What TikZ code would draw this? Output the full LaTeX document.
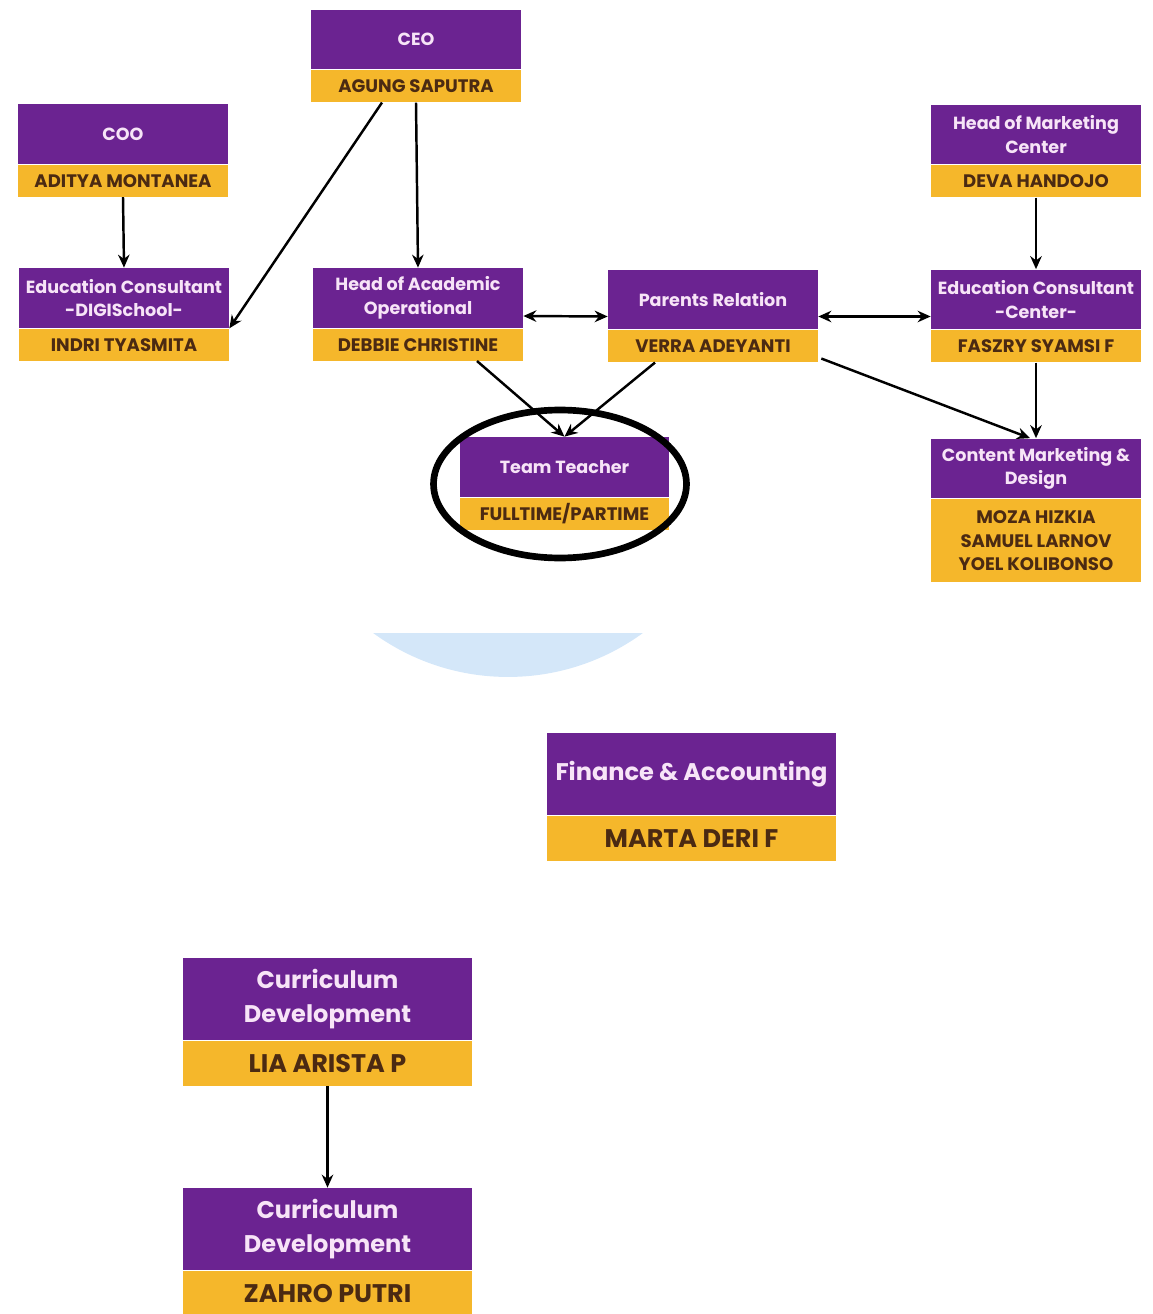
\documentclass[tikz,border=0pt]{standalone}
\usepackage{fontspec}
\setmainfont{Poppins}
\usetikzlibrary{arrows.meta, positioning, calc}
\definecolor{rolepurple}{HTML}{6B2391}
\definecolor{nameyellow}{HTML}{F5B72B}
\definecolor{roletext}{HTML}{F7E4F7}
\definecolor{nametext}{HTML}{4B2A12}
\definecolor{markblue}{HTML}{D4E7F9}

\begin{document}
\begin{tikzpicture}[x=0.02cm, y=-0.02cm,
    rolebox/.style={
        rectangle, fill=rolepurple, text=roletext, minimum width=4.2cm, minimum height=1.2cm,
        inner sep=1pt, align=center, font=\fontsize{10}{13.5}\selectfont\bfseries
    },
    namebox/.style={
        rectangle, fill=nameyellow, text=nametext, minimum width=4.2cm, minimum height=0.64cm,
        inner sep=1pt, align=center, font=\fontsize{10.3}{13.5}\selectfont\bfseries
    },
    bigrole/.style={rolebox, minimum width=5.78cm, minimum height=1.64cm, font=\fontsize{13.7}{19}\selectfont\bfseries},
    bigname/.style={namebox, minimum width=5.78cm, minimum height=0.9cm, font=\fontsize{14.5}{19}\selectfont\bfseries},
    arrow/.style={-{Stealth[length=2.6mm, width=2.3mm]}, line width=1.4pt},
    twoway/.style={{Stealth[length=2.6mm, width=2.3mm]}-{Stealth[length=2.6mm, width=2.3mm]}, line width=1.4pt}
]
\useasboundingbox (0,0) rectangle (1152,1314);

% Watermark behind the chart
\begin{scope}
    \clip (0,633) rectangle (1152,700);
    \fill[markblue] (508,448) circle (4.58cm);
\end{scope}

% Top level
\node[rolebox] (ceo) at (416,39.5) {CEO};
\node[namebox, below=0pt of ceo] (ceon) {AGUNG SAPUTRA};

\node[rolebox] (coo) at (123,134) {COO};
\node[namebox, below=0pt of coo] (coon) {ADITYA MONTANEA};

\node[rolebox] (mkt) at (1036,134.5) {Head of Marketing\\Center};
\node[namebox, below=0pt of mkt] (mktn) {DEVA HANDOJO};

% Second level
\node[rolebox] (edud) at (124,298) {Education Consultant\\-DIGISchool-};
\node[namebox, below=0pt of edud] (edudn) {INDRI TYASMITA};

\node[rolebox] (acad) at (418,298) {Head of Academic\\Operational};
\node[namebox, below=0pt of acad] (acadn) {DEBBIE CHRISTINE};

\node[rolebox] (par) at (713,299.5) {Parents Relation};
\node[namebox, below=0pt of par] (parn) {VERRA ADEYANTI};

\node[rolebox] (educ) at (1036,299.5) {Education Consultant\\-Center-};
\node[namebox, below=0pt of educ] (educn) {FASZRY SYAMSI F};

% Third level
\node[rolebox] (team) at (564.5,467) {Team Teacher};
\node[namebox, below=0pt of team] (teamn) {FULLTIME/PARTIME};

\node[rolebox] (cont) at (1036,468.5) {Content Marketing \&\\Design};
\node[namebox, minimum height=1.66cm, below=0pt of cont] (contn) {MOZA HIZKIA\\SAMUEL LARNOV\\YOEL KOLIBONSO};

% Lower part
\node[bigrole] (fin) at (691.5,774) {Finance \& Accounting};
\node[bigname, below=0pt of fin] (finn) {MARTA DERI F};

\node[bigrole] (cur1) at (327.5,999) {Curriculum\\Development};
\node[bigname, below=0pt of cur1] (cur1n) {LIA ARISTA P};

\node[bigrole] (cur2) at (327.5,1229) {Curriculum\\Development};
\node[bigname, below=0pt of cur2] (cur2n) {ZAHRO PUTRI};

% Arrows
\draw[arrow] ($(ceon.south)+(-34,0)$) -- (edud.south east);
\draw[arrow] (ceon.south) -- (acad.north);
\draw[arrow] (coon.south) -- (edud.north);
\draw[arrow] (mktn.south) -- (educ.north);
\draw[arrow] (educn.south) -- (cont.north);
\draw[arrow] ($(parn.south east)+(3,-4)$) -- ($(cont.north)+(-6,0)$);
\draw[twoway] ($(acad.east)+(0,18)$) -- ($(par.west)+(0,17)$);
\draw[twoway] ($(par.east)+(0,17)$) -- ($(educ.west)+(0,17)$);
\draw[arrow] ($(acadn.south)+(59,0)$) -- (team.north);
\draw[arrow] ($(parn.south)+(-58,0)$) -- (team.north);
\draw[arrow] (cur1n.south) -- (cur2.north);

% Mark round the team teacher
\draw[line width=3.8pt] (560,484) ellipse [x radius=2.53cm, y radius=1.48cm];

\end{tikzpicture}
\end{document}
